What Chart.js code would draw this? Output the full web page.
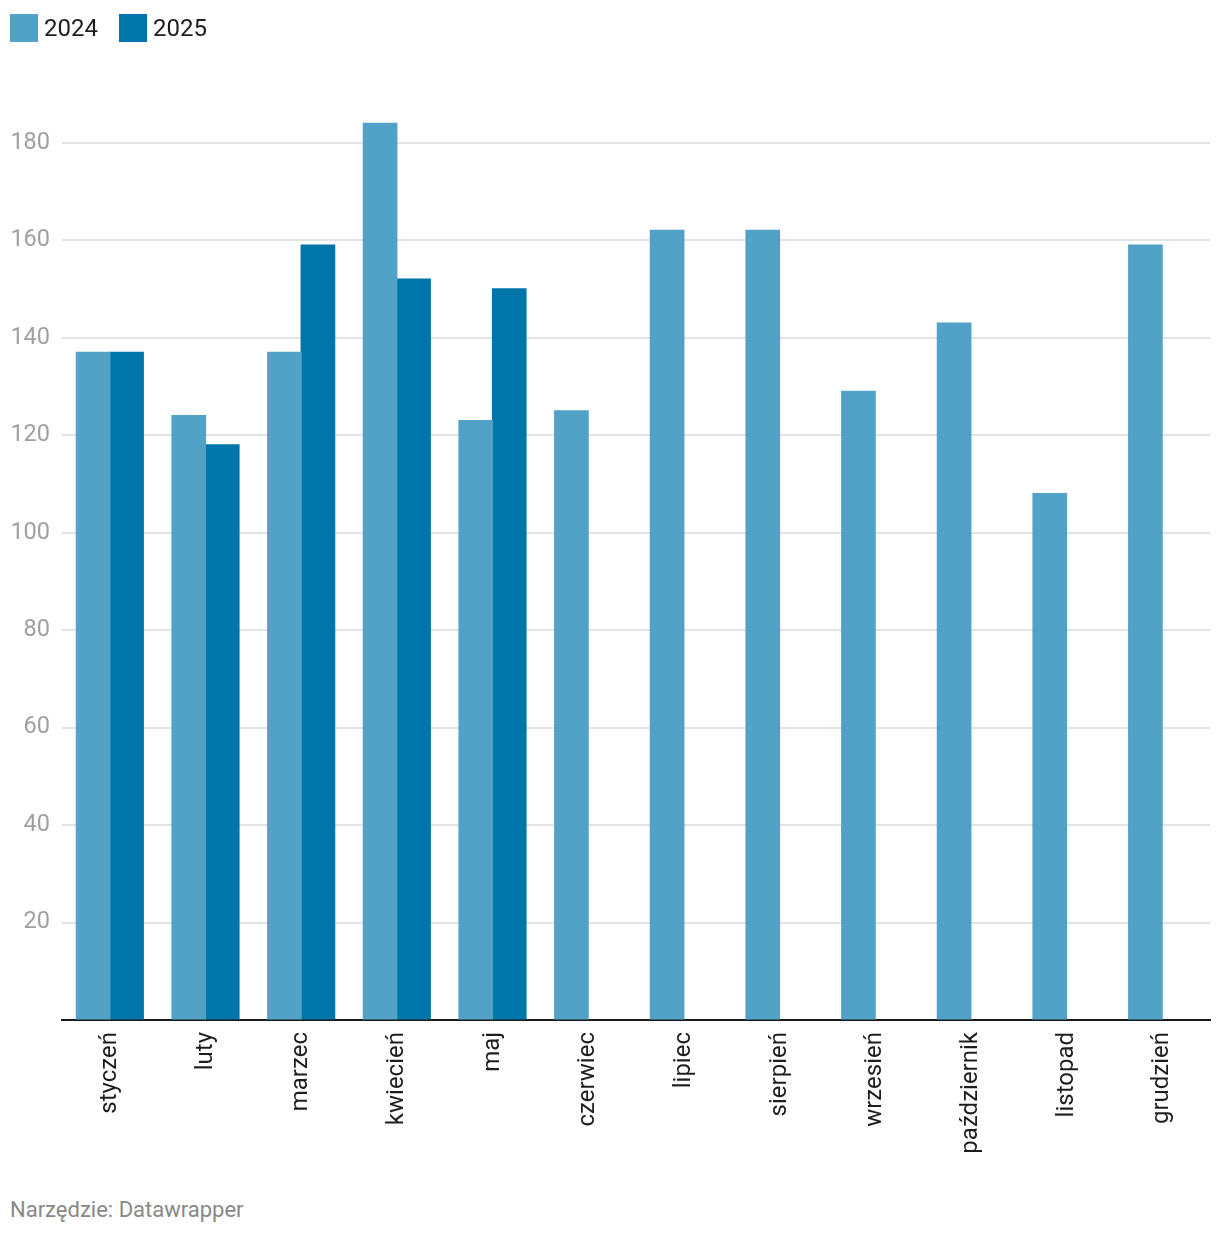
<!DOCTYPE html>
<html>
<head>
<meta charset="utf-8">
<script src="https://cdn.jsdelivr.net/npm/chart.js@4"></script>
<style>
  html,body{margin:0;padding:0;background:#fff;width:1220px;height:1236px;overflow:hidden;font-family:Roboto,sans-serif;}
  #wrap{position:absolute;left:0;top:0;width:1220px;height:1180px;}
  #legend{position:absolute;left:10px;top:14px;display:flex;align-items:center;font-size:24px;color:#1d1d1d;z-index:2;}
  .item{display:flex;align-items:center;margin-right:21px;}
  .sw{width:28px;height:28px;margin-right:6px;}
  #footer{position:absolute;left:10px;top:1197px;font-size:22px;color:#888;}
</style>
</head>
<body>
<div id="legend"></div>
<div id="wrap"><canvas id="c" width="1220" height="1180"></canvas></div>
<div id="footer">Narzędzie: Datawrapper</div>
<script>
const categories = ["styczeń","luty","marzec","kwiecień","maj","czerwiec","lipiec","sierpień","wrzesień","październik","listopad","grudzień"];
const values2024 = [137,124,137,184,123,125,162,162,129,143,108,159];
const values2025 = [137,118,159,152,150,null,null,null,null,null,null,null];
const seriesNames = ["2024","2025"];
const seriesColors = ["#52a2c7","#0075aa"];
const yTicks = [20,40,60,80,100,120,140,160,180];

const leg = document.getElementById('legend');
seriesNames.forEach((n,i)=>{
  const d=document.createElement('div');d.className='item';
  d.innerHTML='<div class="sw" style="background:'+seriesColors[i]+'"></div><span>'+n+'</span>';
  leg.appendChild(d);
});

new Chart(document.getElementById('c'), {
  type:'bar',
  data:{
    labels:categories,
    datasets:[
      {label:seriesNames[0],data:values2024,backgroundColor:seriesColors[0],categoryPercentage:0.7,barPercentage:1.0,inflateAmount:0.6},
      {label:seriesNames[1],data:values2025,backgroundColor:seriesColors[1],categoryPercentage:0.7,barPercentage:1.0,inflateAmount:0.6}
    ]
  },
  options:{
    responsive:false,
    animation:false,
    devicePixelRatio:1,
    layout:{padding:{top:94,right:10,left:0,bottom:0}},
    plugins:{legend:{display:false},tooltip:{enabled:false}},
    scales:{
      x:{
        grid:{display:false,drawTicks:false},
        border:{display:true,color:'#1a1a1a',width:2},
        ticks:{color:'#1d1d1d',font:{family:'Roboto',size:24},minRotation:90,maxRotation:90,padding:12,autoSkip:false},
        afterFit:(s)=>{s.height=160;}
      },
      y:{
        min:0,max:190,
        afterBuildTicks:(s)=>{s.ticks=[0].concat(yTicks).map(v=>({value:v}));},
        grid:{color:(ctx)=>ctx.tick&&ctx.tick.value===0?'rgba(0,0,0,0)':'#e3e3e3',lineWidth:2,drawTicks:false},
        border:{display:false},
        ticks:{color:'#a0a0a0',font:{family:'Roboto',size:23.5},padding:12,callback:(v)=>v===0?'':v},
        afterFit:(s)=>{s.width=62;}
      }
    }
  }
});
</script>
</body>
</html>
